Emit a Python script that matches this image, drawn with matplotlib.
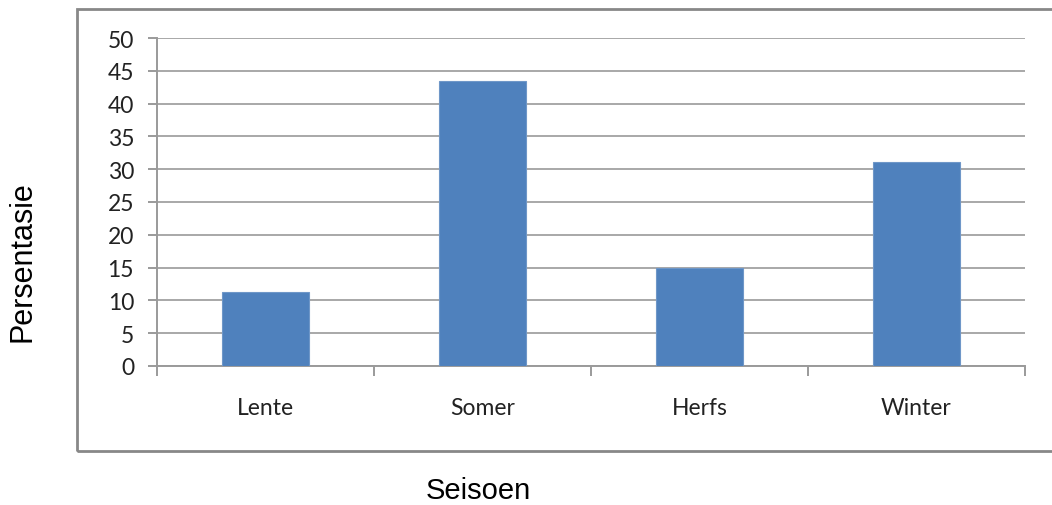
import matplotlib
matplotlib.use("Agg")
import matplotlib.pyplot as plt
from matplotlib.patches import Rectangle

# Data
seasons = ["Lente", "Somer", "Herfs", "Winter"]
percent = [11.3, 43.4, 14.9, 31.1]
y_ticks = [0, 5, 10, 15, 20, 25, 30, 35, 40, 45, 50]

W, H = 1052, 506
fig = plt.figure(figsize=(W / 100, H / 100), dpi=100)
ax = fig.add_axes([157 / W, (H - 367) / H, (1025 - 157) / W, (367 - 39) / H])

grey = "#9a9a9a"
x = range(len(seasons))
ax.bar(x, percent, width=0.4, color="#4F81BD", edgecolor="#6f97c8", linewidth=0.8, zorder=3)

ax.set_xlim(-0.5, len(seasons) - 0.5)
ax.set_ylim(0, 50)
ax.set_yticks(y_ticks)
ax.yaxis.grid(True, color="#a8a8a8", linewidth=1.4, zorder=0)

# category boundaries as x ticks, names centred under each bar
ax.set_xticks([i - 0.5 for i in range(len(seasons) + 1)])
ax.set_xticklabels([])
for i, s in enumerate(seasons):
    ax.text(i, -6.4, s, ha="center", va="center", fontsize=16.5, family="Lato", color="#222222")

for side in ["top", "right"]:
    ax.spines[side].set_visible(False)
for side in ["left", "bottom"]:
    ax.spines[side].set_color(grey)
    ax.spines[side].set_linewidth(1.4)
ax.tick_params(axis="y", direction="out", length=6.5, width=1.4, color=grey, pad=10,
               labelsize=16.5, labelcolor="#222222")
ax.tick_params(axis="x", direction="out", length=7, width=1.4, color=grey)
for lbl in ax.get_yticklabels():
    lbl.set_family("Lato")

# outer chart frame (runs off the right edge like the original)
fig.patches.append(Rectangle((77 / W, (H - 452) / H), 1.0, (452 - 10) / H,
                             transform=fig.transFigure, fill=False,
                             edgecolor="#888888", linewidth=2))

fig.text(23 / W, (H - 262) / H, "Persentasie", rotation=90, ha="center", va="center",
         fontsize=22, family="Liberation Sans")
fig.text(478 / W, (H - 491) / H, "Seisoen", ha="center", va="center",
         fontsize=21, family="Liberation Sans")

fig.savefig("out.png", dpi=100)
